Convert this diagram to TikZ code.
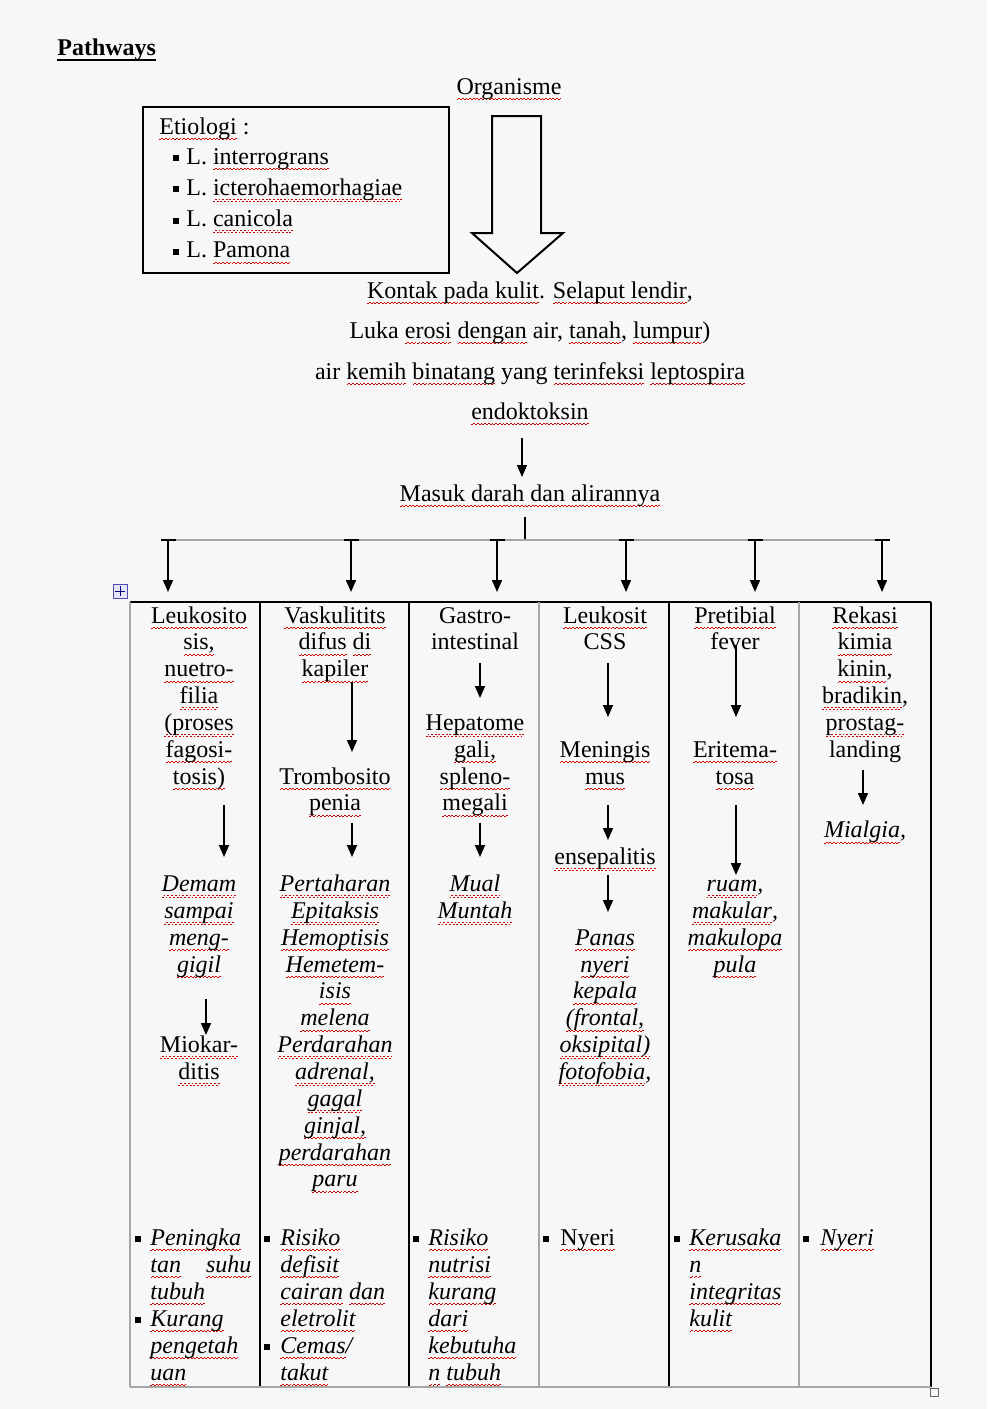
\documentclass[tikz,border=0pt]{standalone}
\usepackage{fontspec}
\setmainfont{Liberation Serif}
\usepackage{xcolor}
\usetikzlibrary{arrows.meta}
\newbox\wvb
\newcommand\wv[1]{\setbox\wvb\hbox{#1}\rlap{\color{red!80!black}\lower3pt\hbox to\wd\wvb{\xleaders\hbox{\rule{0.9pt}{0.4pt}\rule[0.7pt]{0.9pt}{0.4pt}}\hfil}}\box\wvb}

\begin{document}
\begin{tikzpicture}[x=0.5pt,y=-0.5pt,
    txt/.style={anchor=base,inner sep=0pt,font=\fontsize{12}{13.5}\selectfont},
    itx/.style={txt,font=\fontsize{12}{13.5}\selectfont\itshape},
    lft/.style={txt,anchor=base west},
    ilft/.style={itx,anchor=base west},
    arr/.style={-{Triangle[width=5pt,length=6pt]},line width=0.8pt},
    blt/.style={fill,inner sep=0pt,minimum size=3pt},
    gry/.style={black!35,line width=1pt}]
\fill[black!3] (0,0) rectangle (987,1409);
\useasboundingbox (0,0) rectangle (987,1409);

% Title and etiology
\node[lft,font=\fontsize{12}{13.5}\selectfont\bfseries] (ttl) at (57,55) {Pathways};
\draw[line width=1.1pt] ([yshift=-2.6pt]ttl.base west) -- ([yshift=-2.6pt]ttl.base east);
\node[txt] (org) at (509,94) {\wv{Organisme}};
\draw[line width=0.8pt] (143,107) rectangle (449,273);
\node[lft] (eti) at (159,134) {\wv{Etiologi} :};
\foreach \t [count=\k from 0] in {interrograns,icterohaemorhagiae,canicola,Pamona} {
    \node[blt] (eb\k) at (176,{158+31.3*\k}) {};
    \node[lft] (et\k) at (186,{164+31.3*\k}) {L. \wv{\t}};
}
\draw[line width=1pt] (492,116) -- (541,116) -- (541,233) -- (563,233) -- (517,273) -- (472,233) -- (492,233) -- cycle;

% Way of infection
\node[txt] (kon) at (530,298) {\wv{Kontak pada kulit}. \wv{Selaput lendir},};
\node[txt] (luk) at (530,338) {Luka \wv{erosi} \wv{dengan} air, \wv{tanah}, \wv{lumpur})};
\node[txt] (air) at (530,379) {air \wv{kemih} \wv{binatang} yang \wv{terinfeksi} \wv{leptospira}};
\node[txt] (end) at (530,419) {\wv{endoktoksin}};
\node[txt] (msk) at (530,501) {\wv{Masuk darah dan alirannya}};
\coordinate (e1) at (522,438);
\coordinate (e2) at (522,477);
\draw[arr] (e1) -- (e2);

% Branches
\coordinate (m1) at (525,517);
\coordinate (m2) at (525,540);
\draw[line width=0.8pt] (m1) -- (m2) ++(-8,0) -- ++(16,0);
\coordinate (hl) at (168,540);
\coordinate (hr) at (882,540);
\draw[gry] (hl) -- (hr);
\foreach \n/\x in {1/168,2/351,3/497,4/626,5/755,6/882} {
    \coordinate (bt\n) at (\x,540);
    \coordinate (bb\n) at (\x,592);
    \draw[line width=0.8pt] ([xshift=-3.5pt]bt\n) -- ([xshift=4pt]bt\n);
    \draw[arr] (bt\n) -- (bb\n);
}

% Table
\draw[line width=0.8pt] (130,602) -- (931,602);
\foreach \x in {260,409,669,931} \draw[line width=0.8pt] (\x,602) -- (\x,1387);
\foreach \x in {130,539,799} \draw[gry] (\x,602) -- (\x,1387);
\draw[gry] (130,1387) -- (931,1387);
\node[draw=blue!40!gray,fill=blue!10,minimum size=7pt,inner sep=0pt] (mv) at (120,591) {};
\draw[blue!50!black,line width=0.5pt] ([xshift=1pt]mv.west) -- ([xshift=-1pt]mv.east) ([yshift=-1pt]mv.north) -- ([yshift=1pt]mv.south);
\node[draw=black!60,minimum size=4pt,inner sep=0pt] (rs) at (934,1392) {};

% Column 1
\foreach \t [count=\k from 0] in {\wv{Leukosito},\wv{sis,},\wv{nuetro-},\wv{filia},\wv{(proses},\wv{fagosi-},\wv{tosis)}}
    \node[txt] (ca\k) at (199,{623+26.85*\k}) {\t};
\foreach \t [count=\k from 0] in {\wv{Demam},\wv{sampai},\wv{meng-},\wv{gigil}}
    \node[itx] (cb\k) at (199,{623+26.85*(\k+10)}) {\t};
\foreach \t [count=\k from 0] in {\wv{Miokar-},\wv{ditis}}
    \node[txt] (cc\k) at (199,{623+26.85*(\k+16)}) {\t};

% Column 2
\foreach \t [count=\k from 0] in {\wv{Vaskulitits},\wv{difus} \wv{di},\wv{kapiler}}
    \node[txt] (va\k) at (335,{623+26.85*\k}) {\t};
\foreach \t [count=\k from 0] in {\wv{Trombosito},\wv{penia}}
    \node[txt] (vb\k) at (335,{623+26.85*(\k+6)}) {\t};
\foreach \t [count=\k from 0] in {\wv{Pertaharan},\wv{Epitaksis},\wv{Hemoptisis},\wv{Hemetem-},\wv{isis},\wv{melena},\wv{Perdarahan},\wv{adrenal,},\wv{gagal},\wv{ginjal,},\wv{perdarahan},\wv{paru}}
    \node[itx] (vc\k) at (335,{623+26.85*(\k+10)}) {\t};

% Column 3
\foreach \t [count=\k from 0] in {Gastro-,intestinal}
    \node[txt] (ga\k) at (475,{623+26.85*\k}) {\t};
\foreach \t [count=\k from 0] in {\wv{Hepatome},\wv{gali,},\wv{spleno-},\wv{megali}}
    \node[txt] (gb\k) at (475,{623+26.85*(\k+4)}) {\t};
\foreach \t [count=\k from 0] in {\wv{Mual},\wv{Muntah}}
    \node[itx] (gc\k) at (475,{623+26.85*(\k+10)}) {\t};

% Column 4
\foreach \t [count=\k from 0] in {\wv{Leukosit},CSS}
    \node[txt] (la\k) at (605,{623+26.85*\k}) {\t};
\foreach \t [count=\k from 0] in {\wv{Meningis},\wv{mus}}
    \node[txt] (lb\k) at (605,{623+26.85*(\k+5)}) {\t};
\node[txt] (lc) at (605,{623+26.85*9}) {\wv{ensepalitis}};
\foreach \t [count=\k from 0] in {\wv{Panas},\wv{nyeri},\wv{kepala},\wv{(frontal,},\wv{oksipital)},{\wv{fotofobia},}}
    \node[itx] (ld\k) at (605,{623+26.85*(\k+12)}) {\t};

% Column 5
\foreach \t [count=\k from 0] in {\wv{Pretibial},fever}
    \node[txt] (pa\k) at (735,{623+26.85*\k}) {\t};
\foreach \t [count=\k from 0] in {\wv{Eritema-},\wv{tosa}}
    \node[txt] (pb\k) at (735,{623+26.85*(\k+5)}) {\t};
\foreach \t [count=\k from 0] in {{\wv{ruam},},{\wv{makular},},\wv{makulopa},\wv{pula}}
    \node[itx] (pc\k) at (735,{623+26.85*(\k+10)}) {\t};

% Column 6
\foreach \t [count=\k from 0] in {\wv{Rekasi},\wv{kimia},{\wv{kinin},},{\wv{bradikin},},\wv{prostag-},landing}
    \node[txt] (ra\k) at (865,{623+26.85*\k}) {\t};
\node[itx] (rb) at (865,{623+26.85*8}) {\wv{Mialgia},};

% Arrows inside the columns
\foreach \n/\x/\ya/\yb in {1/224/805/857,2/206/999/1035,3/352/682/752,4/352/823/857,
    5/480/663/698,6/480/823/857,7/608/663/717,8/608/805/840,9/608/875/912,
    10/736/645/717,11/736/805/875,12/863/770/805} {
    \coordinate (as\n) at (\x,\ya);
    \coordinate (ae\n) at (\x,\yb);
    \draw[arr] (as\n) -- (ae\n);
}

% Nursing problems
\foreach \x/\y in {138/1239,138/1320,267/1239,267/1347,416/1239,546/1239,677/1239,806/1239}
    \node[blt] at (\x,\y) {};
\foreach \t [count=\k from 0] in {\wv{Peningka},\wv{tan}\hspace{12.5pt}\wv{suhu},\wv{tubuh},\wv{Kurang},\wv{pengetah},\wv{uan}}
    \node[ilft] (na\k) at (150,{1245+27*\k}) {\t};
\foreach \t [count=\k from 0] in {\wv{Risiko},\wv{defisit},\wv{cairan} \wv{dan},\wv{eletrolit},\wv{Cemas}/,\wv{takut}}
    \node[ilft] (nb\k) at (280,{1245+27*\k}) {\t};
\foreach \t [count=\k from 0] in {\wv{Risiko},\wv{nutrisi},\wv{kurang},\wv{dari},\wv{kebutuha},\wv{n} \wv{tubuh}}
    \node[ilft] (nc\k) at (428,{1245+27*\k}) {\t};
\node[lft] (nd) at (560,1245) {\wv{Nyeri}};
\foreach \t [count=\k from 0] in {\wv{Kerusaka},\wv{n},\wv{integritas},\wv{kulit}}
    \node[ilft] (ne\k) at (689,{1245+27*\k}) {\t};
\node[ilft] (nf) at (820,1245) {\wv{Nyeri}};
\end{tikzpicture}
\end{document}
